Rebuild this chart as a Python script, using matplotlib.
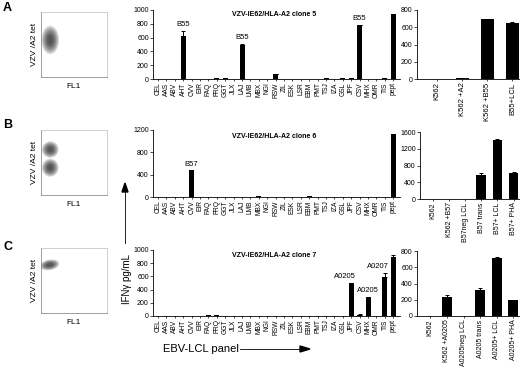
import matplotlib
matplotlib.use("Agg")
import matplotlib.pyplot as plt
from matplotlib.patches import Ellipse
import numpy as np

plt.rcParams["font.family"] = ["Liberation Sans", "DejaVu Sans"]

W, H = 520, 369

# ---- data -------------------------------------------------------------
LCL_PANEL = ["CEL", "AAS", "ABV", "AHT", "CVV", "EIR", "FAQ", "FRQ", "GGT", "JLX",
             "LAJ", "LMB", "MBX", "NGI", "RSW", "ZIL", "ESK", "LSR", "EBM", "PMT",
             "TSJ", "IZA", "GSL", "JPF", "CSV", "MHX", "OMR", "TIS", "pept"]

clone5_vals = [0, 0, 0, 630, 0, 0, 0, 10, 12, 0, 500, 0, 0, 0, 70, 0, 0, 0, 0, 0,
               8, 0, 15, 12, 780, 0, 0, 8, 935]
clone5_err = [0, 0, 0, 70, 0, 0, 0, 0, 0, 0, 10, 0, 0, 0, 5, 0, 0, 0, 0, 0,
              0, 0, 0, 0, 5, 0, 0, 0, 5]
clone5_hla = {"AHT": "B55", "LAJ": "B55", "CSV": "B55"}

clone6_vals = [3, 3, 5, 5, 480, 3, 5, 8, 3, 3, 5, 3, 15, 5, 3, 3, 3, 8, 15, 5,
               5, 3, 5, 8, 5, 5, 3, 5, 1130]
clone6_err = [0] * 29
clone6_hla = {"CVV": "B57"}

clone7_vals = [0, 0, 0, 0, 4, 0, 8, 12, 0, 0, 0, 0, 0, 0, 0, 0, 0, 0, 0, 0,
               0, 0, 0, 495, 20, 285, 0, 595, 900]
clone7_err = [0] * 23 + [5, 5, 10, 0, 60, 25]
clone7_hla = {"JPF": "A0205", "MHX": "A0205", "TIS": "A0207"}

ctrl_a_labels = ["K562", "K562 +A2", "K562 +B55", "B55+LCL"]
ctrl_a_vals = [5, 10, 695, 655]
ctrl_a_err = [0, 0, 5, 5]

ctrl_b_labels = ["K562", "K562 +B57", "B57neg LCL", "B57 trans", "B57+ LCL", "B57+ PHA"]
ctrl_b_vals = [0, 0, 0, 580, 1420, 620]
ctrl_b_err = [0, 0, 0, 30, 20, 25]

ctrl_c_labels = ["K562", "K562 +A0205", "A0205neg LCL", "A0205 trans", "A0205+ LCL", "A0205+ PHA"]
ctrl_c_vals = [0, 230, 0, 320, 710, 195]
ctrl_c_err = [0, 25, 0, 30, 20, 8]

# flow clusters: (x, y, width, height, angle) in 0-100 plot units
flow_a = [(14, 57, 23, 38, 0)]
flow_b = [(14, 70, 22, 22, 0), (14, 42, 22, 24, 0)]
flow_c = [(13, 74, 26, 14, 10)]

# bars whose HLA label sits to the left of the bar
LABEL_RIGHT = ["JPF", "TIS"]


def px(x0, y0, x1, y1):
    return [x0 / W, 1 - y1 / H, (x1 - x0) / W, (y1 - y0) / H]


def bar_axes(ax, labels, vals, err, ymax, step, width, xlim, fs=5):
    x = np.arange(len(labels))
    ax.bar(x, vals, width, color="black")
    ex = [i for i, e in enumerate(err) if e > 0]
    if ex:
        ax.errorbar([x[i] for i in ex], [vals[i] for i in ex], yerr=[[0] * len(ex), [err[i] for i in ex]],
                    fmt="none", ecolor="black", elinewidth=0.7, capsize=1.5, capthick=0.7)
    ax.set_xlim(*xlim)
    ax.set_ylim(0, ymax)
    ax.set_yticks(np.arange(0, ymax + 1, step))
    ax.set_xticks(x)
    ax.set_xticklabels(labels, rotation=90, fontsize=fs)
    ax.tick_params(axis="y", labelsize=5, length=2, width=0.5, pad=1)
    ax.tick_params(axis="x", length=1.5, width=0.5, pad=1)
    for s in ["top", "right"]:
        ax.spines[s].set_visible(False)
    for s in ["left", "bottom"]:
        ax.spines[s].set_linewidth(0.6)
    return x


def middle(ax, vals, err, hla, ymax, step, title, ty):
    x = bar_axes(ax, LCL_PANEL, vals, err, ymax, step, 0.6, (-0.6, 28.8), fs=4.8)
    for name, lab in hla.items():
        i = LCL_PANEL.index(name)
        if name in LABEL_RIGHT:
            ax.text(x[i] + 0.5, vals[i] + err[i] + ymax * 0.04, lab, ha="right", va="bottom", fontsize=5.5)
        else:
            ax.text(x[i], vals[i] + err[i] + ymax * 0.04, lab, ha="center", va="bottom", fontsize=5.5)
    ax.text(0.49, ty, title, transform=ax.transAxes, ha="center", va="center",
            fontsize=5, fontweight="bold")


def flow(ax, clusters):
    ax.set_xlim(0, 100)
    ax.set_ylim(0, 100)
    ax.set_xticks([])
    ax.set_yticks([])
    for name, s in ax.spines.items():
        s.set_linewidth(0.5)
        s.set_color("#777777" if name in ("left", "bottom") else "#bbbbbb")
    for cx, cy, w, h, ang in clusters:
        for k in np.linspace(1.15, 0.35, 7):
            ax.add_patch(Ellipse((cx, cy), w * k, h * k, angle=ang, color="#1a1a1a", alpha=0.17, lw=0))
    ax.set_ylabel("VZV /A2 tet", fontsize=6, labelpad=2)
    ax.set_xlabel("FL1", fontsize=6, labelpad=4)


fig = plt.figure(figsize=(W / 100, H / 100), dpi=100)

# row A
flow(fig.add_axes(px(41, 12, 107, 77)), flow_a)
middle(fig.add_axes(px(153, 10, 400, 79)), clone5_vals, clone5_err, clone5_hla,
       1000, 200, "VZV-IE62/HLA-A2 clone 5", 0.93)
bar_axes(fig.add_axes(px(417, 10, 520, 79)), ctrl_a_labels, ctrl_a_vals, ctrl_a_err,
         800, 200, 0.5, (-0.8, 3.3), fs=5.5)

# row B
flow(fig.add_axes(px(41, 130, 107, 195)), flow_b)
middle(fig.add_axes(px(153, 130, 400, 197)), clone6_vals, clone6_err, clone6_hla,
       1200, 400, "VZV-IE62/HLA-A2 clone 6", 0.9)
bar_axes(fig.add_axes(px(420, 132, 520, 199)), ctrl_b_labels, ctrl_b_vals, ctrl_b_err,
         1600, 400, 0.6, (-0.8, 5.4))

# row C
flow(fig.add_axes(px(41, 248, 107, 313)), flow_c)
middle(fig.add_axes(px(153, 250, 400, 316)), clone7_vals, clone7_err, clone7_hla,
       1000, 200, "VZV-IE62/HLA-A2 clone 7", 0.92)
bar_axes(fig.add_axes(px(417, 251, 520, 316)), ctrl_c_labels, ctrl_c_vals, ctrl_c_err,
         800, 200, 0.6, (-0.8, 5.4))

# panel letters
for lab, y in [("A", 8), ("B", 125), ("C", 247)]:
    fig.text(3 / W, 1 - y / H, lab, fontsize=9, fontweight="bold", ha="left", va="center")

# axis annotations with arrows
fig.text(163 / W, 1 - 349 / H, "EBV-LCL panel", fontsize=8, ha="left", va="center")
fig.add_artist(plt.Line2D([240 / W, 300 / W], [1 - 349 / H] * 2, color="black", lw=0.6))
fig.patches.append(plt.Polygon([[300 / W, 1 - 346 / H], [310 / W, 1 - 349 / H], [300 / W, 1 - 352 / H]],
                               closed=True, color="black", transform=fig.transFigure, figure=fig))

fig.text(127 / W, 1 - 279 / H, "IFN\u03b3 pg/mL", fontsize=7, rotation=90, ha="center", va="center")
fig.add_artist(plt.Line2D([125 / W] * 2, [1 - 243 / H, 1 - 192 / H], color="black", lw=0.6))
fig.patches.append(plt.Polygon([[122 / W, 1 - 192 / H], [125 / W, 1 - 183 / H], [128 / W, 1 - 192 / H]],
                               closed=True, color="black", transform=fig.transFigure, figure=fig))

fig.savefig("out.png", dpi=100)
